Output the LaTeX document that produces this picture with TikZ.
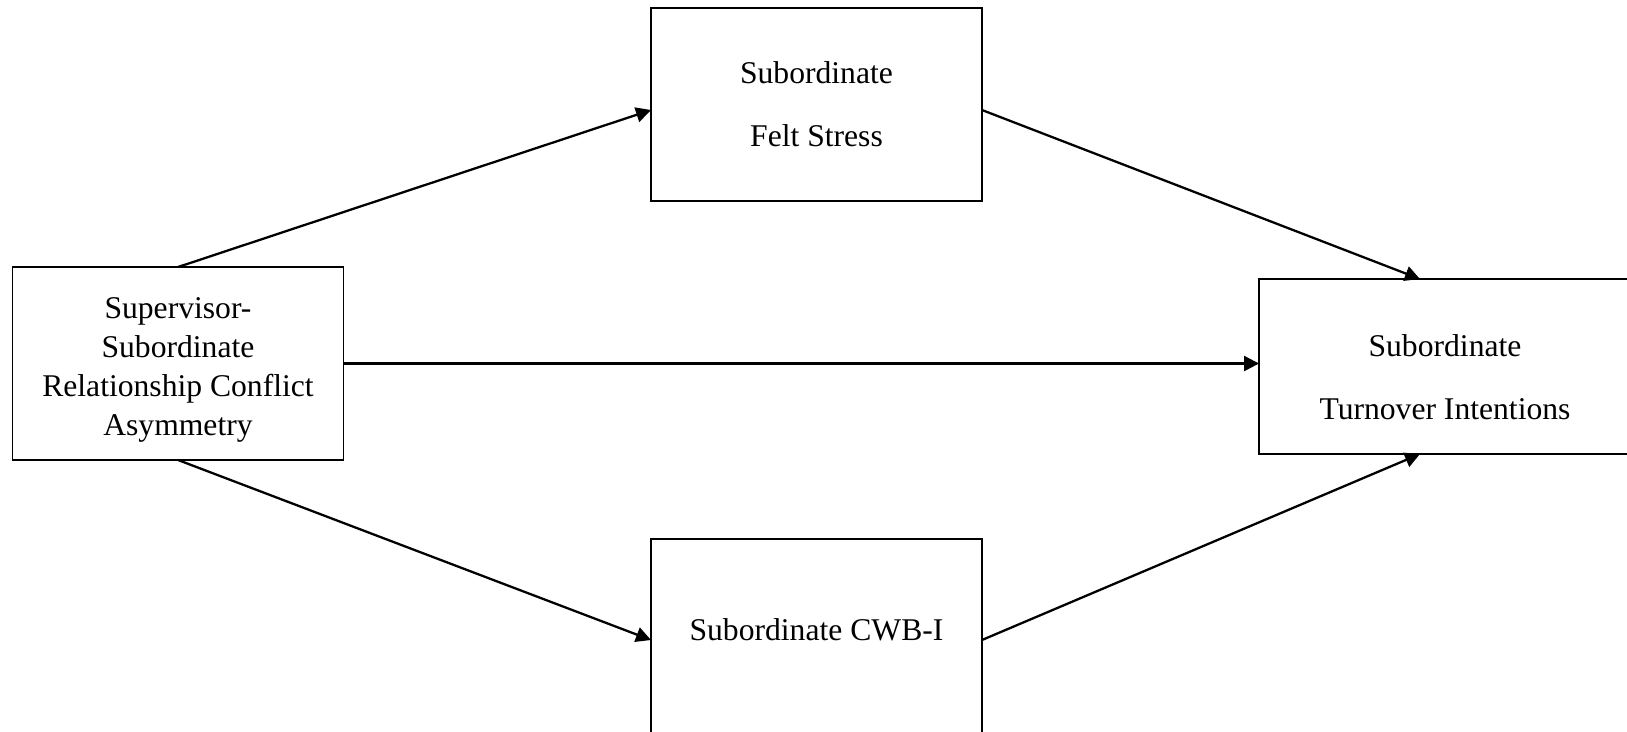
\documentclass[tikz,border=0pt]{standalone}
\usepackage{fontspec}
\setmainfont{Liberation Serif}
\usetikzlibrary{positioning,arrows.meta}
\tikzset{box/.style = {draw,line width=1pt,inner sep=0,outer sep=0,minimum width=6.62cm,minimum height=3.86cm},
         txt/.style = {align=center,inner sep=0,font=\fontsize{18}{22.2}\selectfont},
         wide/.style = {font=\fontsize{18}{36}\selectfont},
         link/.style = {-{Triangle[length=0.3cm,width=0.3cm]},line width=1.3pt}}

\begin{document}
\begin{tikzpicture}[x=0.02cm,y=-0.02cm]
                    \useasboundingbox (0,0) rectangle (1627,731);
                    \node[box] (conflict) at (178,363.5) {};
                    \node[box] (stress) at (816.5,104.5) {};
                    \node[box,minimum width=7.44cm,minimum height=3.5cm] (turnover) at (1445,366.5) {};
                    \node[box,minimum height=3.88cm] (cwb) at (816.5,636) {};
                    \node[txt] (conflictText) at ([yshift=-0.125cm]conflict) {Supervisor-\\Subordinate\\Relationship Conflict\\Asymmetry};
                    \node[txt,wide] (stressText) at (stress) {Subordinate\\Felt Stress};
                    \node[txt,wide] (turnoverText) at ([yshift=-0.22cm]turnover) {Subordinate\\Turnover Intentions};
                    \node[txt] (cwbText) at ([yshift=0.125cm]cwb) {Subordinate CWB-I};
                    \draw[link] (conflict.north) to ([yshift=-0.11cm]stress.west);
                    \draw[link] ([yshift=-0.11cm]stress.east) to ([xshift=-0.5cm]turnover.north);
                    \draw[link] (conflict.east) to (conflict.east -| turnover.west);
                    \draw[link] (conflict.south) to ([yshift=-0.08cm]cwb.west);
                    \draw[link] ([yshift=-0.08cm]cwb.east) to ([xshift=-0.5cm]turnover.south);
                \end{tikzpicture}
\end{document}
